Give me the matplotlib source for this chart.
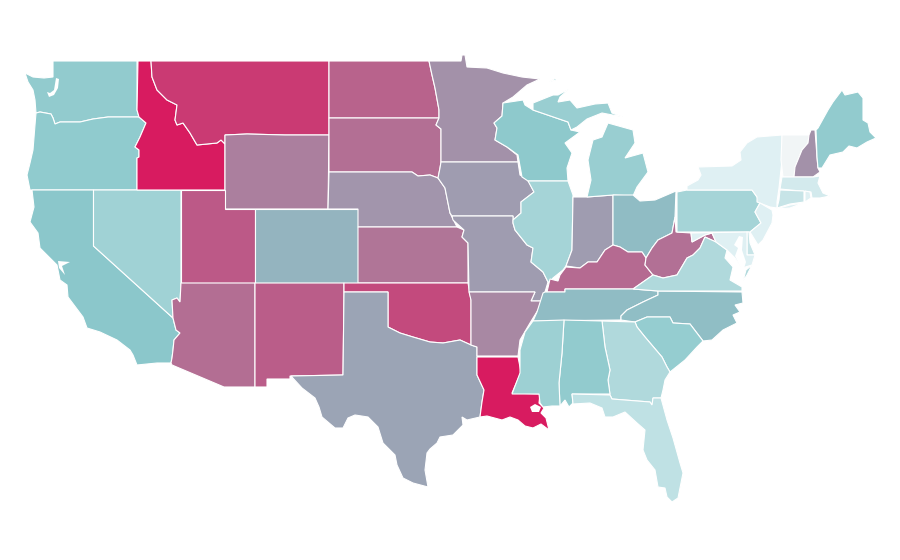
import matplotlib
matplotlib.use("Agg")
import matplotlib.pyplot as plt
from matplotlib.colors import LinearSegmentedColormap, Normalize

# outlines, x/y as on the 900x560 canvas
WA = [(53,61),(137,61),(137,110),(139,117),(108,117),(93,119),(80,122),(67,122),(60,122),(55,124),(53,118),(51,114),(40,112),(36,113),(35,100),(33,90),(28,82),(25,73),(33,77),(44,78),(53,77)]
OR = [(36,113),(40,112),(51,114),(53,118),(55,124),(60,122),(67,122),(80,122),(93,119),(108,117),(139,117),(146,123),(140,137),(135,147),(139,150),(139,157),(137,158),(137,190),(30,190),(27,175),(30,163),(33,150),(35,125)]
CA = [(32,190),(93.5,190),(93.5,246),(173,318),(176,330),(180,333),(174,340),(173,350),(172,358),(171,363),(157,363),(137,365),(133,355),(130,350),(117,340),(100,332),(87,328),(83,317),(68,297),(67,285),(60,280),(57,265),(40,248),(38,233),(30,222),(34,207)]
NV = [(93.5,190),(181,190),(181,283),(180,302),(177,298),(172,300),(173,318),(93.5,246)]
ID = [(138,61),(151,61),(152,77),(157,90),(167,100),(177,105),(175,120),(177,125),(183,123),(190,133),(197,145),(217,143),(221,140),(225,144),(225,190),(137,190),(137,158),(139,157),(139,150),(135,147),(140,137),(146,123),(139,117),(137,110)]
MT = [(151,61),(329,61),(329,135),(285,135),(247,134),(225,135),(225,144),(221,140),(217,143),(197,145),(190,133),(183,123),(177,125),(175,120),(177,105),(167,100),(157,90),(152,77)]
WY = [(225,135),(247,134),(285,135),(329,135),(328,209),(285,209),(225,209)]
UT = [(181,190),(225,190),(225,209),(255,209),(255,283),(181,283)]
CO = [(255,209),(358,209),(358,283),(255,283)]
AZ = [(181,283),(255,283),(255,387),(224,387),(172,365),(171,363),(172,358),(173,350),(174,340),(180,333),(176,330),(173,318),(172,300),(177,298),(180,302)]
NM = [(255,283),(344,283),(344,292),(343,375),(290,376),(290,379),(267,379),(267,387),(255,387)]
ND = [(329,61),(429,61),(432,75),(435,88),(439,110),(439,118),(329,118)]
SD = [(329,118),(439,118),(436,125),(441,129),(441,162),(440,168),(438,178),(430,175),(418,176),(412,172),(329,172)]
NE = [(329,172),(412,172),(418,176),(430,175),(438,178),(445,188),(450,213),(457,227),(358,227),(358,209),(328,209)]
KS = [(358,227),(457,227),(464,230),(462,237),(468,243),(468,283),(358,283)]
OK = [(344,283),(468,283),(471,300),(471,345),(460,340),(443,343),(430,342),(413,337),(400,333),(388,327),(388,292),(344,292)]
TX = [(344,292),(388,292),(388,327),(400,333),(413,337),(430,342),(443,343),(460,340),(471,345),(477,347),(477,375),(484,390),(482,402),(480,417),(467,420),(462,417),(463,425),(453,435),(440,437),(437,443),(430,449),(427,453),(425,470),(428,487),(413,483),(403,478),(397,465),(395,455),(383,443),(378,427),(368,417),(355,415),(348,418),(343,428),(335,428),(322,417),(319,407),(315,398),(302,388),(291,376),(343,375)]
MN = [(429,61),(461,61),(462,55),(465,55),(467,67),(487,68),(503,73),(522,77),(540,79),(527,85),(513,97),(503,103),(502,116),(494,123),(497,128),(495,140),(507,147),(517,155),(518,162),(441,162),(441,129),(436,125),(439,118),(439,110),(435,88),(432,75)]
IA = [(441,162),(518,162),(520,175),(528,180),(534,192),(521,202),(521,213),(513,220),(513,216),(452,216),(450,213),(445,188),(438,178),(440,168)]
MO = [(452,216),(513,216),(513,223),(515,230),(527,245),(533,248),(531,262),(543,272),(548,282),(545,292),(541,301),(531,301),(535,292),(469,292),(468,243),(462,237),(464,230),(453,220)]
AR = [(469,292),(535,292),(531,301),(541,301),(538,310),(530,323),(520,340),(518,356),(477,356),(477,347),(471,345),(471,300)]
LA = [(477,357),(518,357),(521,372),(512,393),(540,394),(539,403),(544,408),(541,413),(546,418),(549,430),(541,424),(533,428),(525,426),(518,420),(510,417),(502,420),(487,416),(480,417),(482,402),(484,390),(477,375)]
WI = [(503,103),(523,100),(525,105),(533,110),(568,122),(571,130),(580,132),(565,143),(572,153),(567,168),(568,181),(528,181),(522,177),(518,155),(507,147),(495,140),(497,128),(494,123),(502,116)]
IL = [(528,181),(568,181),(573,195),(572,250),(566,266),(563,270),(553,278),(550,282),(548,282),(543,272),(531,262),(533,248),(527,245),(515,230),(513,223),(513,220),(521,213),(521,202),(534,192)]
IN = [(573,197),(587,197),(613,195),(613,245),(605,250),(597,262),(588,262),(580,268),(566,266),(572,250)]
MI_UPPER = [(533,110),(533,103),(553,95),(558,95),(569,89),(560,97),(558,102),(570,100),(577,108),(595,104),(608,103),(612,113),(623,117),(602,113),(587,119),(577,127),(571,130),(568,122)]
MI_LOWER = [(587,197),(591,180),(588,160),(593,140),(602,137),(608,123),(633,130),(635,143),(625,158),(643,153),(648,172),(637,187),(633,196),(613,195)]
MI_ISLE = [(549,82),(556,78),(556,80)]
OH = [(613,195),(633,195),(640,201),(655,200),(676,191),(675,217),(672,233),(658,240),(652,248),(646,258),(642,252),(628,252),(620,247),(613,245)]
KY = [(550,279),(558,281),(560,275),(566,267),(580,268),(588,262),(597,262),(605,250),(613,245),(620,247),(628,252),(642,252),(646,258),(645,265),(653,275),(633,289),(565,289),(565,292),(547,292)]
WV = [(675,217),(676,232),(691,233),(692,242),(705,235),(712,233),(716,242),(705,237),(700,248),(693,255),(687,258),(677,275),(663,278),(653,275),(645,265),(646,258),(652,248),(658,240),(672,233)]
TN = [(545,292),(565,292),(565,289),(633,289),(658,291),(658,295),(643,302),(627,310),(621,316),(621,320),(533,321),(537,312),(543,293)]
NC = [(658,291),(742,292),(743,303),(735,305),(740,312),(733,315),(737,323),(723,330),(712,340),(703,341),(690,324),(673,323),(670,317),(647,317),(635,322),(621,320),(621,316),(627,310),(643,302),(658,295)]
SC = [(635,322),(647,317),(670,317),(673,323),(690,324),(703,341),(697,347),(685,360),(670,372),(667,367),(662,357),(645,337),(637,327)]
GA = [(602,321),(635,322),(637,327),(645,337),(662,357),(667,367),(670,372),(665,380),(663,390),(661,398),(653,398),(652,405),(650,402),(612,399),(610,395),(608,380),(610,370),(605,347)]
AL = [(564,320),(602,321),(605,347),(610,370),(608,380),(610,394),(572,394),(573,403),(569,407),(565,400),(560,406),(559,383),(562,353)]
MS = [(533,321),(564,320),(562,353),(559,383),(560,406),(552,406),(543,407),(540,403),(539,394),(512,394),(520,373),(520,350),(525,332)]
FL = [(572,394),(610,395),(612,399),(650,402),(652,405),(653,398),(661,398),(667,420),(673,438),(680,463),(683,473),(678,498),(672,502),(667,497),(665,488),(658,487),(655,470),(647,460),(643,450),(645,430),(637,423),(625,412),(613,417),(605,417),(602,408),(590,403),(573,404)]
VA = [(633,289),(653,275),(663,278),(677,275),(687,258),(693,255),(700,248),(705,237),(716,242),(727,250),(725,258),(733,267),(730,280),(742,287),(742,291),(658,291)]
VA_SHORE = [(752,265),(747,275),(743,281),(746,270)]
PA = [(677,192),(687,190),(752,190),(757,197),(760,203),(755,212),(761,223),(750,232),(677,232)]
NY = [(687,186),(698,180),(701,175),(698,167),(732,166),(741,160),(740,152),(747,143),(757,137),(782,135),(782,160),(779,188),(777,202),(777,208),(770,207),(757,202),(757,197),(752,190),(687,190)]
NY_ISLAND = [(776,209),(790,205),(803,203),(790,208)]
VT = [(782,135),(809,135),(808,143),(802,150),(795,167),(794,177),(783,177),(781,160)]
NH = [(811,130),(815,130),(817,157),(818,168),(820,172),(813,177),(794,177),(795,167),(802,150),(808,143),(809,135)]
ME = [(816,130),(818,128),(828,110),(833,102),(842,90),(845,95),(858,92),(863,98),(863,120),(868,123),(870,132),(876,138),(867,142),(857,148),(849,146),(843,152),(830,155),(822,168),(818,168),(817,157)]
MA = [(782,177),(813,177),(820,176),(818,183),(823,193),(830,196),(820,198),(812,198),(811,192),(780,189)]
CT = [(780,190),(804,191),(804,202),(790,204),(777,208),(779,200)]
RI = [(805,191),(810,192),(811,198),(805,202)]
NJ = [(760,203),(772,210),(773,215),(772,223),(763,240),(758,245),(750,232),(761,223),(755,212)]
DE = [(747,232),(749,232),(750,243),(755,255),(747,255)]
MD = [(691,233),(747,232),(747,255),(755,255),(752,265),(742,268),(735,258),(727,250),(716,242),(712,233),(705,235),(692,242)]

# bays and lakes cut out of the land
PUGET = [(56,78),(59,79),(58,88),(54,95),(49,97),(47,92),(50,93),(54,90),(55,84)]
SF_BAY = [(58,261),(70,262),(62,266),(65,275),(59,268)]
PONTCHARTRAIN = [(530,407),(535,404),(541,407),(539,412),(532,412)]
CHESAPEAKE = [(739,236),(743,237),(742,250),(746,262),(743,272),(738,262),(735,256),(738,248),(734,245)]
water = [PUGET, SF_BAY, PONTCHARTRAIN, CHESAPEAKE]

states = ["WA","OR","CA","NV","ID","MT","WY","UT","CO","AZ","NM","ND","SD","NE","KS","OK","TX","MN","IA","MO","AR","LA","WI","IL","IN","MI","MI","MI","OH","KY","WV","TN","NC","SC","GA","AL","MS","FL","VA","VA","PA","NY","NY","VT","NH","ME","MA","CT","RI","NJ","DE","MD"]
outlines = [WA,OR,CA,NV,ID,MT,WY,UT,CO,AZ,NM,ND,SD,NE,KS,OK,TX,MN,IA,MO,AR,LA,WI,IL,IN,MI_UPPER,MI_LOWER,MI_ISLE,OH,KY,WV,TN,NC,SC,GA,AL,MS,FL,VA,VA_SHORE,PA,NY,NY_ISLAND,VT,NH,ME,MA,CT,RI,NJ,DE,MD]

score_states = ["VT","NY","NJ","MD","RI","MA","CT","DE","FL","VA","GA","PA","IL","NV","MS","MI","SC","AL","WA","ME","OR","WI","CA",
                "NC","TN","OH","CO","TX","IA","MO","IN","NE","MN","NH","AR","WY","KS","WV","SD","AZ","KY","ND","NM","UT","OK","MT","ID","LA"]
scores = [0.02,0.2,0.2,0.2,0.2,0.32,0.43,0.43,0.5,0.65,0.65,0.75,0.75,0.8,0.83,0.87,0.9,0.93,0.93,0.93,0.95,0.97,1.0,
          1.06,1.07,1.07,1.11,1.21,1.25,1.25,1.25,1.29,1.32,1.32,1.37,1.42,1.48,1.5,1.51,1.52,1.54,1.58,1.61,1.64,1.72,1.82,2.0,2.0]

cmap = LinearSegmentedColormap.from_list("scale", [(0, "#F3F5F6"), (0.1, "#DFF0F3"), (0.5, "#8BC8CB"), (1, "#D81B60")])
norm = Normalize(0, 2)
score_of = dict(zip(score_states, scores))

fig = plt.figure(figsize=(9, 5.6), dpi=100)
ax = fig.add_axes([0, 0, 1, 1])

for name, outline in zip(states, outlines):
    xs, ys = zip(*outline)
    ax.fill(xs, ys, facecolor=cmap(norm(score_of[name])), edgecolor="white", linewidth=0.8)

for outline in water:
    xs, ys = zip(*outline)
    ax.fill(xs, ys, facecolor="white", edgecolor="none")

ax.set_xlim(0, 900)
ax.set_ylim(560, 0)
ax.axis("off")

fig.savefig("out.png", dpi=100, facecolor="white")
